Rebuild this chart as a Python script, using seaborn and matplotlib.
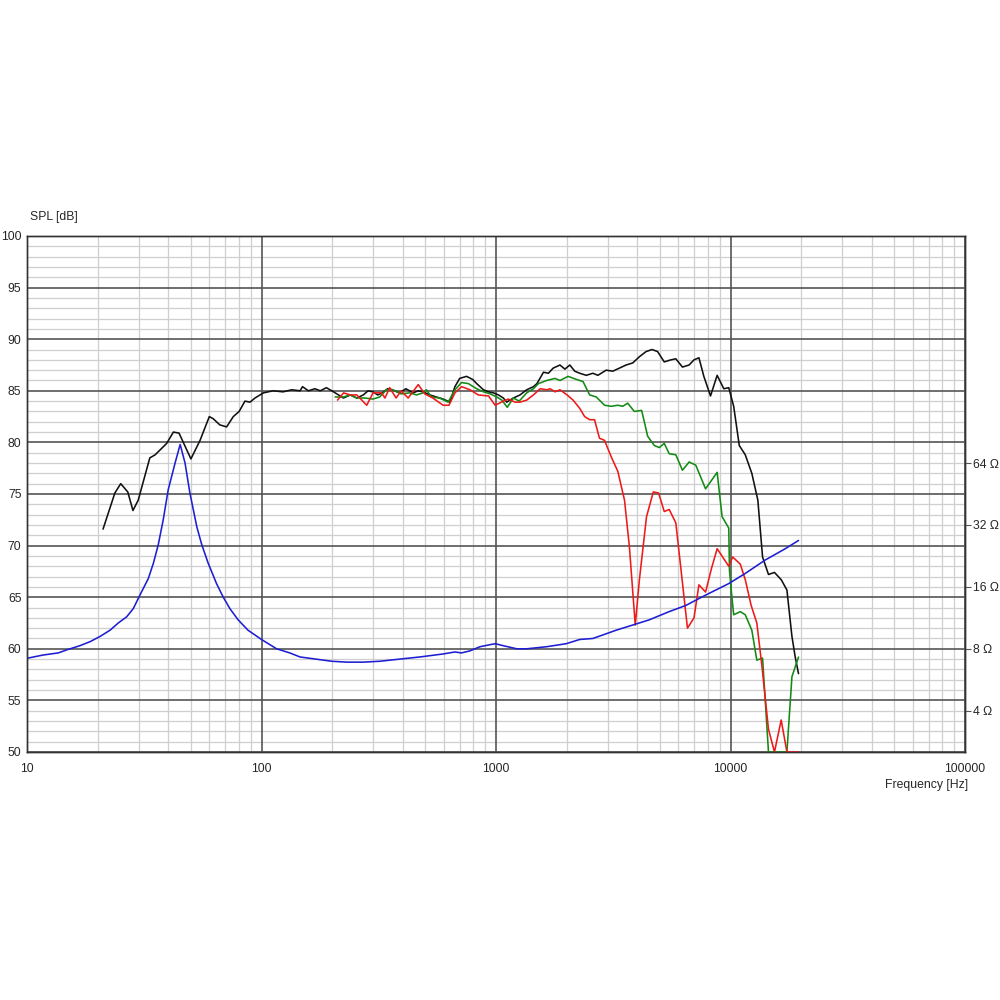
import matplotlib
matplotlib.use("Agg")
import matplotlib.pyplot as plt
import numpy as np
import pandas as pd
import seaborn as sns
from matplotlib.ticker import FixedLocator, NullFormatter, LogLocator, NullLocator

sns.set_theme(style="white")
plt.rcParams['font.family'] = ['Liberation Sans', 'DejaVu Sans']

# SPL on-axis (black)
black_f = [21.1, 23.7, 25.1, 26.9, 28.3, 29.8, 33.4, 35.2, 39.4, 42.1, 44.5, 50.0, 54.7, 59.9,
           62.2, 66.4, 71.0, 75.8, 80.3, 85.0, 89.3, 93.8, 101.9, 112, 123.6, 134.5, 146, 149.6,
           158.5, 169, 178, 189, 199.5, 213, 223.6, 239, 254.6, 271.7, 284.7, 298.6, 313, 328,
           345, 362, 387, 413, 443, 466, 489, 522, 557, 595, 636, 668, 700, 749, 795, 827, 884,
           929, 975, 1024, 1075, 1111, 1186, 1266, 1352, 1444, 1495, 1594, 1673, 1754, 1874,
           1967, 2064, 2167, 2275, 2427, 2590, 2719, 2950, 3149, 3361, 3588, 3830, 4088, 4364,
           4628, 4888, 5218, 5570, 5846, 6238, 6660, 6988, 7334, 7697, 8218, 8772, 9362, 9830,
           10318, 10900, 11560, 12330, 13080, 13700, 14520, 15400, 16450, 17400, 18280, 18880,
           19500]
black_spl = [71.6, 75.1, 76.0, 75.2, 73.4, 74.4, 78.5, 78.8, 79.9, 81.0, 80.9, 78.4, 80.2, 82.5,
             82.3, 81.7, 81.5, 82.5, 83.0, 84.0, 83.9, 84.3, 84.8, 85.0, 84.9, 85.1, 85.0, 85.4,
             85.0, 85.2, 85.0, 85.3, 85.0, 84.6, 84.3, 84.6, 84.3, 84.6, 85.0, 84.9, 84.6, 84.8,
             85.2, 85.1, 84.8, 85.2, 84.8, 85.0, 84.9, 84.6, 84.4, 84.2, 83.9, 85.4, 86.2, 86.4,
             86.1, 85.7, 85.1, 84.9, 84.8, 84.6, 84.3, 83.9, 84.3, 84.6, 85.1, 85.4, 85.7, 86.8,
             86.7, 87.2, 87.5, 87.1, 87.5, 86.9, 86.7, 86.5, 86.7, 86.5, 87.0, 86.9, 87.2, 87.5,
             87.7, 88.3, 88.8, 89.0, 88.8, 87.8, 88.0, 88.1, 87.3, 87.5, 88.0, 88.2, 86.4, 84.5,
             86.5, 85.2, 85.3, 83.5, 79.7, 78.8, 77.0, 74.4, 68.9, 67.2, 67.4, 66.7, 65.7, 61.2,
             59.2, 57.6]

# SPL off-axis (green)
green_f = [206, 224, 239, 255, 276, 299, 319, 341, 362, 394, 428, 458, 489, 505, 530, 575, 625,
           668, 713, 762, 827, 884, 945, 1008, 1059, 1117, 1186, 1255, 1352, 1444, 1517, 1646,
           1785, 1874, 2030, 2203, 2350, 2508, 2677, 2903, 3100, 3307, 3471, 3644, 3890, 4180,
           4433, 4732, 4970, 5218, 5478, 5846, 6238, 6660, 7110, 7828, 8772, 9208, 9830, 9900,
           10100, 10318, 11010, 11560, 12330, 12950, 13700, 14520, 15400, 16450, 17400, 18280,
           19500]
green_spl = [84.4, 84.4, 84.6, 84.3, 84.3, 84.2, 84.4, 85.1, 85.1, 84.7, 84.8, 84.6, 84.8, 85.1,
             84.4, 84.3, 83.9, 85.1, 85.8, 85.7, 85.2, 84.9, 84.7, 84.4, 84.1, 83.4, 84.3, 84.0,
             84.8, 85.2, 85.7, 86.0, 86.2, 86.0, 86.4, 86.1, 85.9, 84.6, 84.4, 83.6, 83.5, 83.6,
             83.5, 83.8, 83.0, 83.1, 80.6, 79.7, 79.5, 79.9, 78.9, 78.8, 77.3, 78.1, 77.8, 75.5,
             77.1, 72.8, 71.7, 67.6, 65.4, 63.3, 63.6, 63.3, 61.8, 58.9, 59.1, 50.0, 50.0, 50.0,
             50.0, 57.3, 59.2]

# SPL off-axis (red)
red_f = [211, 224, 239, 255, 281, 299, 325, 336, 352, 375, 394, 422, 466, 497, 538, 595, 630,
         668, 713, 775, 840, 929, 992, 1075, 1129, 1206, 1266, 1352, 1444, 1543, 1646, 1703,
         1785, 1874, 2010, 2131, 2275, 2388, 2508, 2632, 2762, 2903, 3100, 3307, 3532, 3705,
         3925, 4088, 4384, 4686, 4935, 5218, 5478, 5846, 6554, 6988, 7334, 7828, 8300, 8772,
         9830, 10220, 11010, 11560, 12250, 12950, 13620, 14520, 15400, 16450, 17400, 19500]
red_spl = [84.1, 84.8, 84.6, 84.6, 83.6, 84.8, 84.8, 84.3, 85.3, 84.3, 85.0, 84.3, 85.6, 84.7,
           84.3, 83.6, 83.6, 84.8, 85.4, 85.1, 84.6, 84.5, 83.6, 84.0, 84.2, 83.9, 83.9, 84.1,
           84.6, 85.2, 85.1, 85.2, 84.9, 85.1, 84.6, 84.1, 83.3, 82.5, 82.2, 82.2, 80.4, 80.2,
           78.6, 77.2, 74.4, 69.9, 62.3, 66.7, 72.8, 75.2, 75.1, 73.3, 73.5, 72.2, 62.0, 63.0,
           66.2, 65.5, 67.8, 69.7, 68.0, 68.9, 68.2, 66.7, 64.2, 62.5, 58.3, 52.2, 50.0, 53.1,
           50.0, 50.0]

# Impedance (blue), ohms
imp_f = [10.1, 11.7, 13.6, 14.8, 16.8, 18.6, 20.5, 22.6, 24.5, 26.6, 28.4, 30.3, 32.9, 34.6,
         36.3, 38.1, 40.0, 42.8, 44.6, 45.0, 47.2, 49.5, 53.0, 55.6, 59.2, 64.3, 68.6, 73.3,
         79.5, 87.6, 100, 116, 132, 146, 199, 231, 272, 320, 389, 473, 595, 668, 713, 775, 855,
         945, 992, 1075, 1226, 1352, 1646, 1992, 2275, 2590, 3253, 3954, 4500, 5478, 6450, 7828,
         9830, 11560, 14050, 17090, 19500]
imp_ohm = [7.21, 7.46, 7.64, 7.91, 8.28, 8.67, 9.19, 9.85, 10.68, 11.44, 12.55, 14.59, 17.55,
           20.87, 25.7, 33.9, 47.4, 64.0, 76.0, 78.8, 64.0, 45.8, 31.3, 25.7, 20.9, 16.6, 14.3,
           12.55, 11.06, 9.85, 8.88, 8.0, 7.64, 7.30, 6.96, 6.89, 6.89, 6.96, 7.13, 7.30, 7.55,
           7.72, 7.64, 7.82, 8.19, 8.38, 8.47, 8.28, 8.0, 8.0, 8.19, 8.47, 8.88, 8.98, 9.85,
           10.56, 11.06, 12.13, 13.0, 14.59, 16.6, 18.6, 21.6, 24.5, 26.9]

x_ticks = [10, 100, 1000, 10000, 100000]
y_ticks = list(range(50, 101, 5))
imp_ticks = [4, 8, 16, 32, 64]

text_color = '#262626'
fig = plt.figure(figsize=(10, 10), dpi=100)
ax = fig.add_axes([0.027, 0.248, 0.938, 0.516])

for f, s, c in [(black_f, black_spl, '#111111'), (green_f, green_spl, '#138a13'),
                (red_f, red_spl, '#ee1a1a')]:
    df = pd.DataFrame({'f': f, 'spl': s})
    sns.lineplot(data=df, x='f', y='spl', ax=ax, color=c, lw=1.15, zorder=3)

ax.set_xscale('log')
ax.set_xlim(10, 100000)
ax.set_ylim(50, 100)
ax.set_xticks(x_ticks)
ax.set_xticklabels([str(t) for t in x_ticks])
ax.xaxis.set_minor_locator(LogLocator(base=10, subs=np.arange(2, 10)))
ax.xaxis.set_minor_formatter(NullFormatter())
ax.set_yticks(y_ticks)
ax.yaxis.set_minor_locator(FixedLocator(list(range(50, 101))))
ax.set_axisbelow(True)
# light minor grid underneath, dark major lines drawn on top of it
ax.grid(which='minor', color='#cfcfcf', lw=0.9)
ax.grid(which='major', visible=False)
for t in x_ticks:
    ax.axvline(t, color='#555555', lw=1.2, zorder=1)
for t in y_ticks:
    ax.axhline(t, color='#555555', lw=1.2, zorder=1)
ax.tick_params(which='both', length=0, labelsize=8.8, colors=text_color)
ax.tick_params(axis='y', pad=4)
ax.tick_params(axis='x', pad=8)
ax.set_xlabel('')
ax.set_ylabel('')
for sp in ax.spines.values():
    sp.set_color('#333333')
    sp.set_linewidth(1.0)

ax2 = ax.twinx()
ax2.set_yscale('log', base=2)
ax2.set_ylim(8 * 2 ** (-10 / 6), 8 * 2 ** (40 / 6))
imp_df = pd.DataFrame({'f': imp_f, 'z': imp_ohm})
sns.lineplot(data=imp_df, x='f', y='z', ax=ax2, color='#1e1ed2', lw=1.15)
ax2.set_xlim(10, 100000)
ax2.yaxis.set_major_locator(FixedLocator(imp_ticks))
ax2.yaxis.set_minor_locator(NullLocator())
ax2.set_yticklabels([f'{t} \u03a9' for t in imp_ticks])
ax2.tick_params(axis='y', length=4, width=0.8, color='#555555', labelsize=8.8,
                labelcolor=text_color, pad=2)
ax2.set_ylabel('')
ax2.set_xlabel('')
ax2.grid(False)
for sp in ax2.spines.values():
    sp.set_color('#333333')
    sp.set_linewidth(1.0)

fig.text(0.030, 0.783, 'SPL [dB]', fontsize=8.8, color=text_color, va='center', ha='left')
fig.text(0.968, 0.215, 'Frequency [Hz]', fontsize=8.8, color=text_color, va='center', ha='right')

fig.savefig('out.png', dpi=100)
